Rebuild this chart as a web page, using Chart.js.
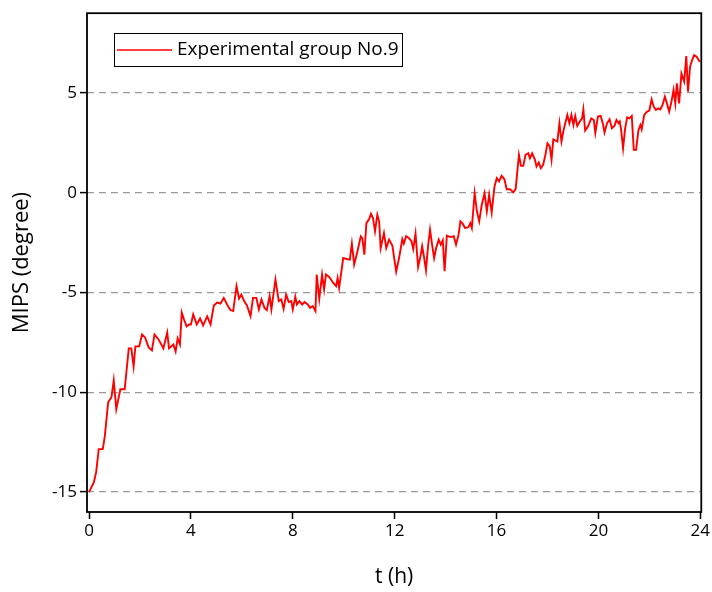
<!DOCTYPE html>
<html>
<head>
<meta charset="utf-8">
<script src="https://cdn.jsdelivr.net/npm/chart.js@4/dist/chart.umd.min.js"></script>
<style>
  html, body { margin: 0; padding: 0; background: #fff; }
  canvas { display: block; }
</style>
</head>
<body>
<canvas id="mipsChart" width="712" height="592"></canvas>
<script>
// data
const seriesLabel = 'Experimental group No.9';
const tValues = [
  0.00, 0.19, 0.28, 0.38, 0.54, 0.62, 0.75, 0.88, 0.97, 1.07, 1.23, 1.40, 1.56, 1.66, 1.75, 1.82, 1.97,
  2.08, 2.20, 2.34, 2.47, 2.57, 2.73, 2.92, 3.07, 3.14, 3.31, 3.40, 3.48, 3.57, 3.64, 3.73, 3.83, 3.93,
  4.00, 4.09, 4.23, 4.36, 4.48, 4.64, 4.77, 4.90, 5.03, 5.16, 5.29, 5.42, 5.55, 5.66, 5.79, 5.89, 5.98,
  6.09, 6.20, 6.34, 6.44, 6.57, 6.67, 6.77, 6.89, 6.98, 7.09, 7.16, 7.32, 7.45, 7.55, 7.64, 7.74, 7.84,
  7.94, 8.00, 8.10, 8.16, 8.26, 8.37, 8.46, 8.59, 8.68, 8.78, 8.89, 8.94, 9.04, 9.15, 9.23, 9.30, 9.43,
  9.59, 9.70, 9.76, 9.82, 9.98, 10.11, 10.24, 10.32, 10.41, 10.54, 10.67, 10.73, 10.81, 10.89, 11.00,
  11.07, 11.15, 11.23, 11.32, 11.39, 11.45, 11.58, 11.67, 11.78, 11.91, 12.06, 12.17, 12.30, 12.36,
  12.45, 12.56, 12.66, 12.73, 12.82, 12.92, 13.02, 13.08, 13.16, 13.23, 13.31, 13.39, 13.47, 13.55,
  13.63, 13.73, 13.81, 13.89, 13.96, 14.05, 14.19, 14.32, 14.41, 14.51, 14.58, 14.67, 14.77, 14.90,
  14.97, 15.03, 15.14, 15.23, 15.32, 15.42, 15.53, 15.62, 15.71, 15.81, 15.92, 16.01, 16.10, 16.20,
  16.31, 16.40, 16.53, 16.66, 16.75, 16.88, 16.96, 17.05, 17.14, 17.25, 17.31, 17.40, 17.51, 17.57,
  17.66, 17.74, 17.83, 17.92, 18.00, 18.09, 18.16, 18.23, 18.31, 18.39, 18.47, 18.55, 18.63, 18.70,
  18.78, 18.86, 18.94, 19.02, 19.09, 19.17, 19.27, 19.36, 19.41, 19.48, 19.59, 19.72, 19.82, 19.88,
  19.98, 20.09, 20.18, 20.24, 20.34, 20.44, 20.53, 20.63, 20.71, 20.79, 20.84, 20.89, 20.97, 21.05,
  21.13, 21.22, 21.31, 21.39, 21.48, 21.57, 21.65, 21.70, 21.80, 21.91, 22.00, 22.09, 22.17, 22.26,
  22.35, 22.43, 22.52, 22.61, 22.69, 22.78, 22.87, 22.95, 23.02, 23.08, 23.17, 23.26, 23.37, 23.45,
  23.52, 23.60, 23.68, 23.76, 23.86, 23.95, 24.00
];
const mipsValues = [
  -15.0, -14.5, -14.0, -12.85, -12.85, -12.2, -10.5, -10.25, -9.4, -10.85, -9.85, -9.85, -7.8, -7.8, -8.7, -7.7, -7.7,
  -7.1, -7.25, -7.75, -7.9, -7.1, -7.35, -7.8, -7.0, -7.8, -7.6, -7.95, -7.3, -7.6, -6.0, -6.35, -6.7, -6.6,
  -6.6, -6.1, -6.6, -6.3, -6.65, -6.2, -6.6, -5.65, -5.5, -5.55, -5.27, -5.6, -5.88, -5.93, -4.68, -5.3, -5.1,
  -5.43, -5.65, -6.18, -5.27, -5.27, -5.85, -5.35, -5.77, -5.88, -5.18, -5.85, -4.35, -5.43, -5.35, -5.82, -5.1, -5.48,
  -5.43, -5.85, -5.22, -5.6, -5.43, -5.6, -5.48, -5.6, -5.77, -5.68, -5.93, -4.1, -5.32, -4.1, -4.85, -4.1, -4.22,
  -4.52, -4.68, -4.27, -4.77, -3.27, -3.32, -3.35, -2.55, -3.6, -2.93, -2.18, -2.27, -3.1, -1.52, -1.32,
  -1.05, -1.27, -1.93, -1.1, -1.43, -2.77, -2.02, -2.77, -2.35, -2.65, -3.95, -3.3, -2.32, -2.55,
  -2.18, -2.27, -2.43, -2.82, -2.05, -3.72, -3.15, -2.68, -3.27, -3.88, -2.68, -1.85, -2.6, -3.27,
  -2.77, -2.35, -2.6, -2.38, -3.93, -2.15, -2.22, -2.18, -2.6, -2.1, -1.43, -1.55, -1.77, -1.72,
  -1.52, -1.77, -0.02, -0.93, -1.43, -0.6, -0.02, -0.93, -0.1, -0.98, 0.32, 0.73, 0.57, 0.85,
  0.68, 0.18, 0.18, 0.02, 0.18, 1.9, 1.35, 1.35, 1.9, 1.98, 1.73, 1.98, 1.65, 1.32,
  1.52, 1.23, 1.4, 1.9, 2.48, 2.32, 1.65, 2.68, 2.62, 2.57, 3.48, 2.57, 3.12, 3.48,
  3.9, 3.48, 3.9, 3.4, 3.85, 3.35, 3.57, 3.73, 4.18, 3.12, 3.32, 3.73, 3.65, 3.0,
  3.82, 3.85, 3.45, 3.02, 3.48, 3.68, 3.23, 3.35, 3.65, 3.48, 3.57, 3.18, 2.23, 3.23,
  3.78, 3.73, 3.85, 2.15, 2.15, 3.12, 3.4, 3.18, 3.9, 4.07, 4.12, 4.68, 4.32, 4.15,
  4.23, 4.18, 4.4, 4.82, 4.48, 4.07, 4.57, 5.15, 4.48, 5.48, 4.48, 5.98, 5.57, 6.85,
  5.07, 6.32, 6.65, 6.9, 6.82, 6.62, 6.57
];
const xTicks = [0, 4, 8, 12, 16, 20, 24];
const yTicks = [-15, -10, -5, 0, 5];

const points = tValues.map((t, i) => ({ x: t, y: mipsValues[i] }));

// frame around plot + legend box
const framePlugin = {
  id: 'frame',
  afterDraw(chart) {
    const { ctx, chartArea: a } = chart;
    ctx.save();
    ctx.strokeStyle = '#000';
    ctx.lineWidth = 1.8;
    ctx.strokeRect(a.left, a.top, a.right - a.left, a.bottom - a.top);

    // legend
    ctx.lineWidth = 1;
    ctx.strokeRect(114.5, 33.5, 288, 33);
    ctx.strokeStyle = '#ff0000';
    ctx.lineWidth = 1.5;
    ctx.beginPath();
    ctx.moveTo(117, 50);
    ctx.lineTo(172, 50);
    ctx.stroke();
    ctx.fillStyle = '#000';
    ctx.font = '19px "Open Sans"';
    ctx.textBaseline = 'middle';
    ctx.fillText(chart.data.datasets[0].label, 177, 50);
    ctx.restore();
  }
};

new Chart(document.getElementById('mipsChart'), {
  type: 'line',
  data: {
    datasets: [{
      label: seriesLabel,
      data: points,
      borderColor: '#ff0000',
      borderWidth: 1.9,
      pointRadius: 0,
      tension: 0,
      fill: false
    }]
  },
  options: {
    responsive: false,
    animation: false,
    layout: { padding: { top: 13, right: 8, left: 0, bottom: 0 } },
    plugins: { legend: { display: false }, tooltip: { enabled: false } },
    scales: {
      x: {
        type: 'linear',
        min: -0.08,
        max: 24.04,
        afterBuildTicks: s => { s.ticks = xTicks.map(v => ({ value: v })); },
        afterFit: s => { s.height = 80; },
        grid: { drawOnChartArea: false, drawTicks: true, tickLength: 7, tickColor: '#000', tickWidth: 1.5 },
        border: { display: false },
        ticks: { color: '#000', font: { family: 'Open Sans', size: 17 }, padding: 2, maxRotation: 0 },
        title: { display: true, text: 't (h)', color: '#000', font: { family: 'Open Sans', size: 21 }, padding: { top: 0, bottom: 2 } }
      },
      y: {
        min: -16,
        max: 9,
        afterBuildTicks: s => { s.ticks = yTicks.map(v => ({ value: v })); },
        afterFit: s => { s.width = 87; },
        grid: { color: '#9a9a9a', lineWidth: 1.2, drawTicks: true, tickLength: 7, tickColor: '#000', tickWidth: 1.5 },
        border: { display: false, dash: [7, 5] },
        ticks: { color: '#000', font: { family: 'Open Sans', size: 17 }, padding: 3 },
        title: { display: true, text: 'MIPS (degree)', color: '#000', font: { family: 'Open Sans', size: 22 }, padding: { top: 9, bottom: 0 } }
      }
    }
  },
  plugins: [framePlugin]
});
</script>
</body>
</html>
